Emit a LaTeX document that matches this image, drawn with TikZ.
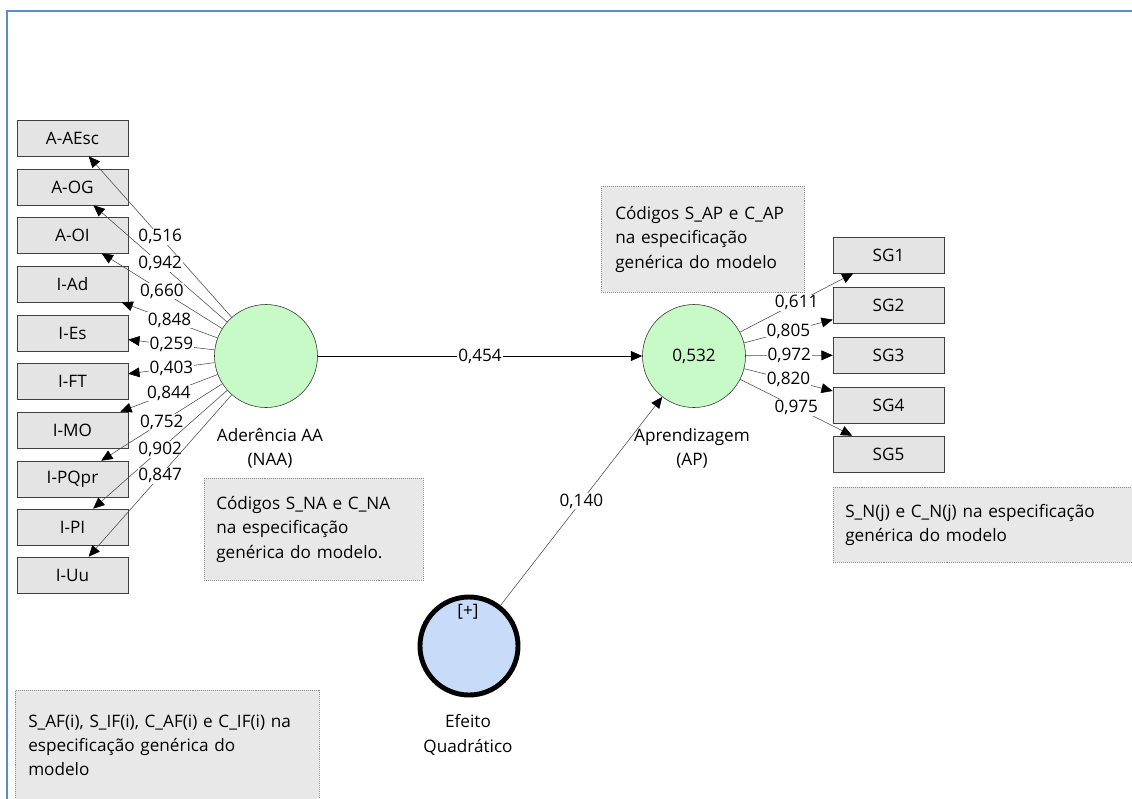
\documentclass[tikz,border=0pt]{standalone}
\usepackage{fontspec}
\setmainfont{Open Sans}
\usetikzlibrary{positioning,arrows.meta}
\definecolor{boxgray}{HTML}{E4E4E4}
\definecolor{notegray}{HTML}{E8E8E8}
\definecolor{lvgreen}{HTML}{C8FAC8}
\definecolor{lvblue}{HTML}{C8DCFA}
\definecolor{framecol}{HTML}{5B8BC8}
\begin{document}
\begin{tikzpicture}[x=0.025cm, y=-0.025cm,
    font=\fontsize{12.2}{17.3}\selectfont,
    ind/.style={draw=black!75, fill=boxgray, minimum width=2.775cm, minimum height=0.9cm, inner sep=0pt},
    lv/.style={circle, draw=black!80, fill=lvgreen, minimum size=2.575cm, inner sep=0pt},
    note/.style={draw=black!45, densely dotted, fill=notegray, anchor=north west, align=left, inner ysep=0pt},
    load/.style={fill=white, inner sep=0.6pt},
    link/.style={draw=black!70, -{Triangle[length=8pt,width=7pt,color=black]}}]
  \useasboundingbox (0,0) rectangle (1132,798);
  \clip (0,0) rectangle (1132,798);

  % Moldura
  \draw[framecol, line width=1.5pt] (7,800) -- (7,11) -- (1134,11);

  % Variaveis latentes
  \node[lv] (naa) at (266,356) {};
  \node[lv] (ap) at (694,356) {0,532};
  \node[lv, fill=lvblue, draw=black, line width=3.5pt, minimum size=2.45cm] (efq) at (469,646) {};
  \node (plus) at (468,612) {[+]};
  \node[align=center] (naalbl) at (270,448) {Aderência AA\\(NAA)};
  \node[align=center] (aplbl) at (692,448) {Aprendizagem\\(AP)};
  \node[align=center] (efqlbl) at (468,735) {Efeito\\Quadrático};

  % Indicadores de NAA
  \foreach \y/\name/\txt in {138/aesc/A-AEsc,187/aog/A-OG,235/aoi/A-OI,284/iad/I-Ad,333/ies/I-Es,
                             381/ift/I-FT,430/imo/I-MO,479/ipq/I-PQpr,527/ipi/I-PI,575/iuu/I-Uu} {
    \node[ind] (\name) at (72.5,\y) {\txt};
  }

  % Indicadores de AP
  \foreach \y/\name in {255/1,305/2,355/3,405/4,454/5} {
    \node[ind] (sg\name) at (888.5,\y) {SG\name};
  }

  % Cargas
  \foreach \name/\val in {aesc/{0,516},aog/{0,942},aoi/{0,660},iad/{0,848},ies/{0,259},
                          ift/{0,403},imo/{0,844},ipq/{0,752},ipi/{0,902},iuu/{0,847}} {
    \draw[link] (naa) -- node[load] {\val} (\name);
  }
  \foreach \name/\val in {1/{0,611},2/{0,805},3/{0,972},4/{0,820},5/{0,975}} {
    \draw[link] (ap) -- node[load] {\val} (sg\name);
  }

  % Caminhos estruturais
  \draw[link, draw=black] (naa) -- node[load] {0,454} (ap);
  \draw[link] (efq) -- node[load] {0,140} (ap);

  % Notas
  \node[note, minimum width=5.475cm, minimum height=2.55cm, text width=4.875cm, inner xsep=0.3cm] (notenaa) at (204,478)
    {Códigos S\_NA e C\_NA\\na especificação\\genérica do modelo.};
  \node[note, minimum width=5.075cm, minimum height=2.65cm, text width=4.375cm, inner xsep=0.35cm] (noteap) at (601,186)
    {Códigos S\_AP e C\_AP\\na especificação\\genérica do modelo};
  \node[note, minimum width=7.75cm, minimum height=1.875cm, text width=7.15cm, inner xsep=0.3cm] (notesg) at (833,487)
    {S\_N(j) e C\_N(j) na especificação\\genérica do modelo};
  \node[note, minimum width=7.6cm, minimum height=2.75cm, text width=6.95cm, inner xsep=0.325cm] (noteind) at (15,690)
    {S\_AF(i), S\_IF(i), C\_AF(i) e C\_IF(i) na\\especificação genérica do\\modelo};
\end{tikzpicture}
\end{document}
